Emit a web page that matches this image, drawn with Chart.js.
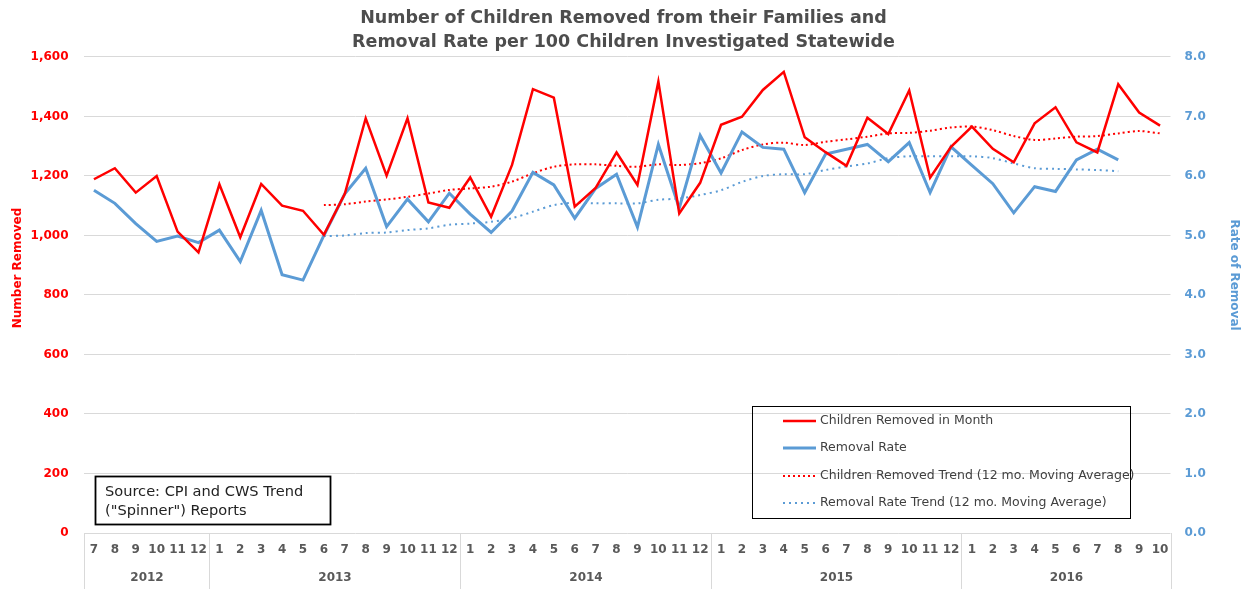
<!DOCTYPE html>
<html>
<head>
<meta charset="utf-8">
<script src="https://cdn.jsdelivr.net/npm/chart.js@4.4.1/dist/chart.umd.min.js"></script>
<style>
  body { margin: 0; background: #fff; }
  #chart { display: block; }
</style>
</head>
<body>
<canvas id="chart" width="1247" height="589"></canvas>
<script>
const years = ['2012', '2013', '2014', '2015', '2016'];
const monthsPerYear = [6, 12, 12, 12, 10];
const months = [
  '7', '8', '9', '10', '11', '12',
  '1', '2', '3', '4', '5', '6', '7', '8', '9', '10', '11', '12',
  '1', '2', '3', '4', '5', '6', '7', '8', '9', '10', '11', '12',
  '1', '2', '3', '4', '5', '6', '7', '8', '9', '10', '11', '12',
  '1', '2', '3', '4', '5', '6', '7', '8', '9', '10'
];

// Children removed in month (left axis)
const removed = [
  1189, 1226, 1144, 1200, 1013, 943, 1172, 994, 1173, 1100, 1083, 1002,
  1140, 1394, 1201, 1394, 1111, 1093, 1195, 1063, 1237, 1492, 1463, 1097,
  1160, 1279, 1170, 1517, 1074, 1177, 1372, 1399, 1489, 1550, 1330, 1280,
  1234, 1396, 1341, 1487, 1194, 1298, 1366, 1291, 1246, 1377, 1431, 1313,
  1279, 1508, 1413, 1369
];

// Removal rate per 100 investigated (right axis)
const rate = [
  5.76, 5.54, 5.20, 4.90, 4.99, 4.88, 5.09, 4.56, 5.42, 4.34, 4.25, 5.00,
  5.70, 6.13, 5.15, 5.61, 5.23, 5.71, 5.36, 5.05, 5.41, 6.06, 5.85, 5.29,
  5.79, 6.03, 5.14, 6.53, 5.46, 6.68, 6.05, 6.74, 6.48, 6.45, 5.72, 6.37,
  6.45, 6.53, 6.24, 6.56, 5.72, 6.49, 6.18, 5.87, 5.38, 5.82, 5.74, 6.27,
  6.45, 6.27, null, null
];

// 12 mo. moving averages
const removedTrend = [
  null, null, null, null, null, null, null, null, null, null, null, 1102,
  1105, 1114, 1121, 1130, 1141, 1153, 1158, 1164, 1181, 1209, 1231, 1239,
  1239, 1234, 1231, 1239, 1237, 1243, 1259, 1287, 1306, 1312, 1304, 1315,
  1323, 1332, 1343, 1345, 1352, 1363, 1366, 1354, 1334, 1321, 1326, 1332,
  1334, 1343, 1351, 1343
];
const rateTrend = [
  null, null, null, null, null, null, null, null, null, null, null, 4.99,
  5.00, 5.04, 5.05, 5.09, 5.12, 5.18, 5.20, 5.23, 5.29, 5.40, 5.51, 5.55,
  5.54, 5.54, 5.54, 5.60, 5.62, 5.68, 5.76, 5.90, 6.00, 6.03, 6.03, 6.10,
  6.16, 6.21, 6.30, 6.33, 6.33, 6.33, 6.33, 6.30, 6.21, 6.13, 6.12, 6.11,
  6.10, 6.08, null, null
];

const RED = '#FF0000';
const BLUE = '#5B9BD5';
const GREY = '#595959';
const FONT = "'DejaVu Sans', 'Liberation Sans', Arial, sans-serif";

Chart.defaults.font.family = FONT;

// Axis titles, year row under the month ticks, legend and source boxes
const extras = {
  id: 'extras',
  afterDraw(chart) {
    const { ctx, scales: { x }, chartArea } = chart;
    ctx.save();

    // axis titles
    ctx.font = 'bold 12px ' + FONT;
    ctx.textAlign = 'center';
    ctx.textBaseline = 'middle';
    ctx.save();
    ctx.translate(18, 268);
    ctx.rotate(-Math.PI / 2);
    ctx.fillStyle = RED;
    ctx.fillText('Number Removed', 0, 0);
    ctx.restore();
    ctx.save();
    ctx.translate(1234, 275);
    ctx.rotate(Math.PI / 2);
    ctx.fillStyle = BLUE;
    ctx.fillText('Rate of Removal', 0, 0);
    ctx.restore();

    // year separators + labels
    ctx.strokeStyle = '#d9d9d9';
    ctx.lineWidth = 1;
    ctx.fillStyle = GREY;
    let start = 0;
    const edge = i => Math.round(x.getPixelForValue(i - 0.5)) + 0.5;
    years.forEach((yr, k) => {
      const end = start + monthsPerYear[k];
      const a = edge(start), b = edge(end);
      if (k === 0) {
        ctx.beginPath(); ctx.moveTo(a, chartArea.bottom); ctx.lineTo(a, chart.height); ctx.stroke();
      }
      ctx.beginPath(); ctx.moveTo(b, chartArea.bottom); ctx.lineTo(b, chart.height); ctx.stroke();
      ctx.fillText(yr, (a + b) / 2, 578);
      start = end;
    });

    // legend box
    ctx.strokeStyle = '#000';
    ctx.lineWidth = 1;
    ctx.strokeRect(752.5, 406.5, 378, 112);
    const rowY = [421, 448, 476, 503];
    ctx.font = '12.5px ' + FONT;
    ctx.textAlign = 'left';
    chart.data.datasets.forEach((ds, i) => {
      ctx.beginPath();
      ctx.strokeStyle = ds.borderColor;
      ctx.lineWidth = ds.borderWidth;
      ctx.setLineDash(ds.borderDash || []);
      ctx.moveTo(783, rowY[i]);
      ctx.lineTo(816, rowY[i]);
      ctx.stroke();
      ctx.setLineDash([]);
      ctx.fillStyle = '#404040';
      ctx.fillText(ds.label, 820, rowY[i]);
    });

    // source box
    ctx.strokeStyle = '#000';
    ctx.lineWidth = 1.8;
    ctx.strokeRect(95.5, 476.5, 235, 48);
    ctx.font = '14.6px ' + FONT;
    ctx.fillStyle = '#222';
    ctx.fillText('Source: CPI and CWS Trend', 105, 492);
    ctx.fillText('("Spinner") Reports', 105, 511);

    ctx.restore();
  }
};

const data = {
  labels: months,
  datasets: [{
    label: 'Children Removed in Month',
    data: removed,
    yAxisID: 'y',
    borderColor: RED,
    borderWidth: 2.5,
    pointRadius: 0,
    tension: 0
  }, {
    label: 'Removal Rate',
    data: rate,
    yAxisID: 'y1',
    borderColor: BLUE,
    borderWidth: 3,
    pointRadius: 0,
    tension: 0
  }, {
    label: 'Children Removed Trend (12 mo. Moving Average)',
    data: removedTrend,
    yAxisID: 'y',
    borderColor: RED,
    borderWidth: 2,
    borderDash: [2, 3],
    pointRadius: 0,
    tension: 0.3
  }, {
    label: 'Removal Rate Trend (12 mo. Moving Average)',
    data: rateTrend,
    yAxisID: 'y1',
    borderColor: BLUE,
    borderWidth: 2,
    borderDash: [2, 4],
    pointRadius: 0,
    tension: 0.3
  }]
};

const config = {
  type: 'line',
  data: data,
  options: {
    responsive: false,
    animation: false,
    layout: { padding: 0 },
    plugins: {
      legend: { display: false },
      tooltip: { enabled: false },
      title: {
        display: true,
        text: ['Number of Children Removed from their Families and',
               'Removal Rate per 100 Children Investigated Statewide'],
        color: '#4d4d4d',
        font: { size: 17.5, weight: 'bold', lineHeight: 1.37 },
        padding: { top: 6, bottom: 3 }
      }
    },
    scales: {
      x: {
        offset: true,
        grid: { display: false, drawTicks: false },
        border: { display: false },
        ticks: {
          autoSkip: false,
          maxRotation: 0,
          color: GREY,
          font: { size: 12, weight: 'bold' },
          padding: 10
        },
        afterFit: s => { s.height = 56; }
      },
      y: {
        position: 'left',
        min: 0,
        max: 1600,
        grid: { color: '#d9d9d9', drawTicks: false },
        border: { display: false },
        ticks: {
          stepSize: 200,
          color: RED,
          font: { size: 12, weight: 'bold' },
          padding: 15
        },
        afterFit: s => { s.width = 83.5; }
      },
      y1: {
        position: 'right',
        min: 0,
        max: 8,
        grid: { display: false, drawTicks: false },
        border: { display: false },
        ticks: {
          stepSize: 1,
          color: BLUE,
          font: { size: 12, weight: 'bold' },
          padding: 14,
          callback: v => v.toFixed(1)
        },
        afterFit: s => { s.width = 76.5; }
      }
    }
  },
  plugins: [extras]
};

const chart = new Chart(document.getElementById('chart'), config);
</script>
</body>
</html>
